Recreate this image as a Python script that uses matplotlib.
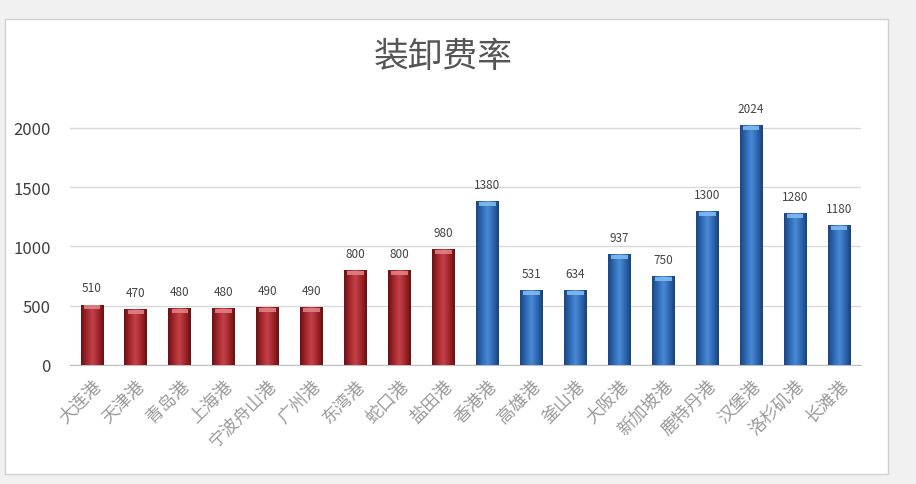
import matplotlib
matplotlib.use("Agg")
import matplotlib.pyplot as plt
import numpy as np
from matplotlib.colors import LinearSegmentedColormap
from matplotlib.patches import Rectangle

plt.rcParams['font.family'] = ['Noto Sans CJK SC', 'DejaVu Sans']

ports = ["大连港", "天津港", "青岛港", "上海港", "宁波舟山港", "广州港", "东湾港", "蛇口港", "盐田港",
         "香港港", "高雄港", "釜山港", "大阪港", "新加坡港", "鹿特丹港", "汉堡港", "洛杉矶港", "长滩港"]
values = [510, 470, 480, 480, 490, 490, 800, 800, 980,
          1380, 634, 634, 937, 750, 1300, 2024, 1280, 1180]
value_labels = ["510", "470", "480", "480", "490", "490", "800", "800", "980",
                "1380", "531", "634", "937", "750", "1300", "2024", "1280", "1180"]
groups = ["cn"] * 9 + ["intl"] * 9
y_ticks = [0, 500, 1000, 1500, 2000]
title = "装卸费率"

W, H = 916, 485
fig = plt.figure(figsize=(W / 100, H / 100), dpi=100)
fig.patch.set_facecolor("#f1f1f1")

# white chart panel
panel = Rectangle((5 / W, 10 / H), 883 / W, 455 / H, transform=fig.transFigure,
                  facecolor="white", edgecolor="#d0d0d0", linewidth=1, zorder=-10)
fig.patches.append(panel)

ax = fig.add_axes([70 / W, 119 / H, 791 / W, 243 / H])
ax.set_zorder(1)
ax.set_facecolor("none")

cmaps = {
    "cn": LinearSegmentedColormap.from_list("r", ["#6a1014", "#a3262b", "#c4434a", "#a3262b", "#66100f"]),
    "intl": LinearSegmentedColormap.from_list("b", ["#1a4680", "#2e68b4", "#4a8ad6", "#2e68b4", "#184273"]),
}
caps = {"cn": "#e3868a", "intl": "#86bff4"}

grad = np.linspace(0, 1, 64).reshape(1, -1)
bw = 0.52
for i, (v, g) in enumerate(zip(values, groups)):
    bars = ax.bar(i, v, width=bw, color="none", edgecolor="none", zorder=3)
    rect = bars[0]
    im = ax.imshow(grad, cmap=cmaps[g], aspect="auto", extent=(i - bw / 2, i + bw / 2, 0, v),
                   zorder=3, interpolation="bicubic")
    im.set_clip_path(rect)
    ax.add_patch(Rectangle((i - bw / 2 + 0.07, v - 40), bw - 0.14, 34, facecolor=caps[g],
                           edgecolor="none", alpha=0.85, zorder=4))
    ax.text(i, v + 85, value_labels[i], ha="center", va="bottom",
            fontsize=8.5, color="#444444", zorder=5)

ax.set_xlim(-0.5, len(ports) - 0.5)
ax.set_ylim(0, 2050)

ax.set_yticks(y_ticks)
ax.set_yticklabels([str(t) for t in y_ticks], fontsize=12, color="#404040")
ax.yaxis.grid(True, color="#d9d9d9", linewidth=1, zorder=0)
ax.set_axisbelow(True)
ax.tick_params(axis="both", length=0)
ax.tick_params(axis="y", pad=14)
for s in ["top", "right", "left"]:
    ax.spines[s].set_visible(False)
ax.spines["bottom"].set_color("#bfbfbf")

ax.set_xticks(range(len(ports)))
ax.set_xticklabels(ports, rotation=45, ha="right", va="top", rotation_mode="anchor",
                   fontsize=12.5, color="#9a9a9a")
ax.tick_params(axis="x", pad=8)

fig.text(443 / W, 1 - 58 / H, title, ha="center", va="center", fontsize=25,
         color="#555555", fontweight="medium")

fig.savefig("out.png", dpi=100, facecolor=fig.get_facecolor())
